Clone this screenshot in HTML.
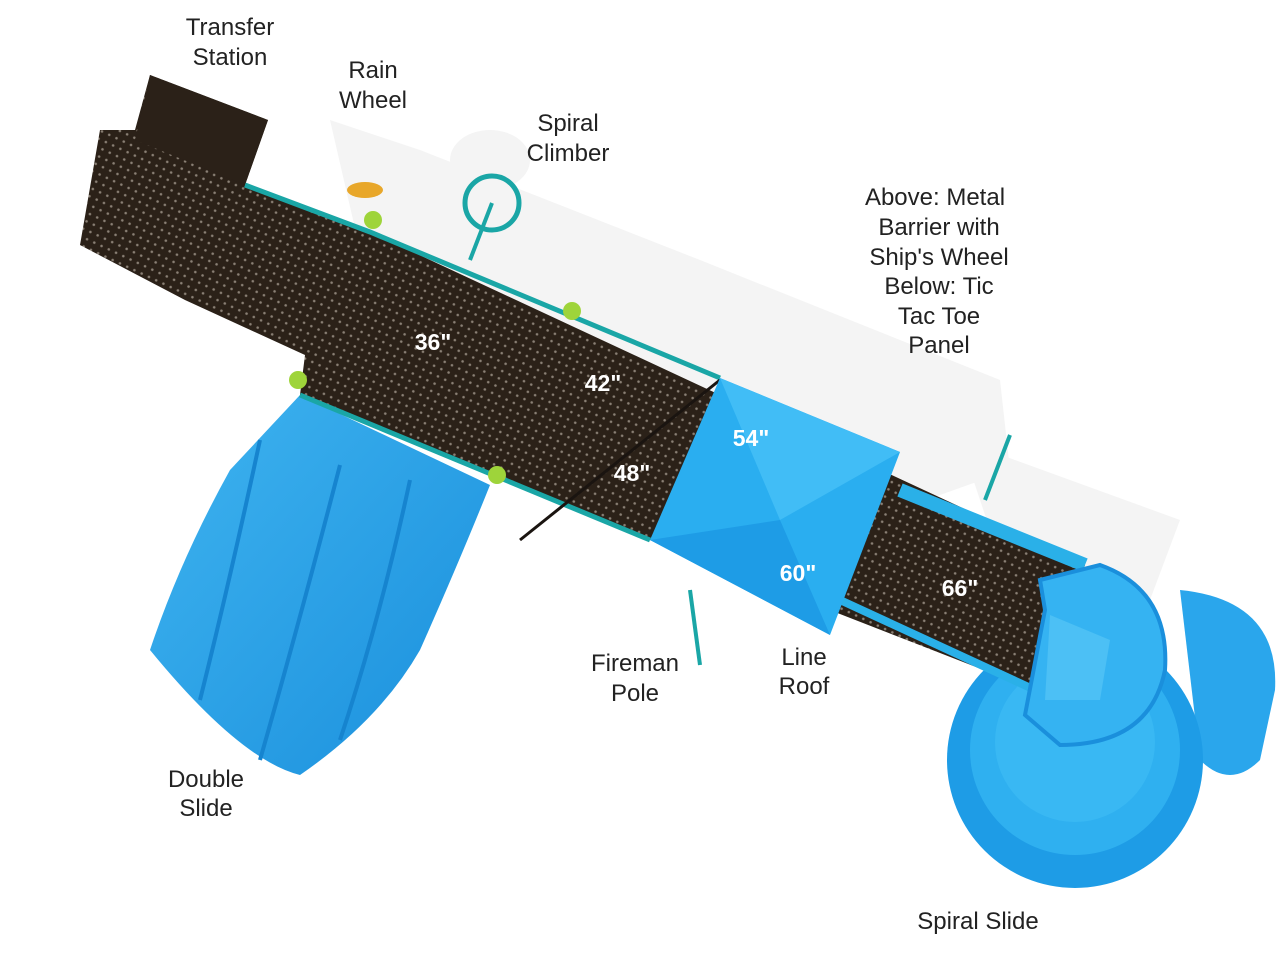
<!DOCTYPE html>
<html><head><meta charset="utf-8">
<style>
html,body{margin:0;padding:0;background:#fff;}
svg{display:block}
.lbl{font-family:"Liberation Sans",sans-serif;font-size:24px;fill:#222;text-anchor:middle}
.dim{font-family:"Liberation Sans",sans-serif;font-size:23px;font-weight:bold;fill:#fff;text-anchor:middle}
</style></head><body>
<svg width="1280" height="960" viewBox="0 0 1280 960">
<defs>
<pattern id="dots" width="8" height="8" patternUnits="userSpaceOnUse" patternTransform="rotate(25)">
<rect width="8" height="8" fill="#2b2118"/><circle cx="4" cy="4" r="1.3" fill="#8a8075"/>
</pattern>
<linearGradient id="bl" x1="0" y1="0" x2="1" y2="1"><stop offset="0" stop-color="#3fb4f0"/><stop offset="1" stop-color="#1a8fdc"/></linearGradient>
</defs>
<!-- shadows -->
<g fill="#f4f4f4">
<polygon points="330,120 420,150 700,260 1000,380 1010,470 870,520 600,400 360,250"/>
<ellipse cx="490" cy="160" rx="40" ry="30"/>
<polygon points="960,440 1180,520 1150,600 1000,560"/>
</g>
<!-- spiral slide rear & bowl -->
<path d="M1180,590 Q1280,600 1275,690 L1260,760 Q1230,790 1200,760 Z" fill="#2aa6ec"/>
<circle cx="1075" cy="760" r="128" fill="#1e9ce6"/>
<circle cx="1075" cy="750" r="105" fill="#2fb0f0"/>
<circle cx="1075" cy="742" r="80" fill="#39b8f3"/>
<!-- double slide -->
<path d="M300,395 L490,485 Q460,560 420,650 Q380,720 300,775 Q240,760 150,650 Q180,560 230,470 Z" fill="url(#bl)"/>
<path d="M260,440 Q230,580 200,700 M340,465 Q300,620 260,760 M410,480 Q380,620 340,740" stroke="#1684cf" stroke-width="4" fill="none"/>
<!-- deck -->
<polygon points="150,75 268,120 245,185 370,232 1085,565 1035,690 650,540 300,395 305,355 185,300 80,245 100,130 135,130" fill="url(#dots)"/>
<polygon points="150,75 268,120 245,185 135,140" fill="#2b2118"/>
<!-- rails -->
<polyline points="245,185 370,232 720,378" stroke="#1aa6a6" stroke-width="5" fill="none"/>
<polyline points="900,490 1085,565" stroke="#2ab0e8" stroke-width="14" fill="none"/>
<polyline points="840,600 1035,690" stroke="#2ab0e8" stroke-width="8" fill="none"/>
<polyline points="300,395 650,540" stroke="#1aa6a6" stroke-width="5" fill="none"/>
<line x1="520" y1="540" x2="720" y2="380" stroke="#1a1410" stroke-width="3"/>
<!-- spiral slide entrance -->
<path d="M1040,580 L1100,565 Q1170,590 1165,670 Q1150,745 1060,745 L1025,715 L1045,610 Z" fill="#35b3f2" stroke="#1a8fdc" stroke-width="4"/>
<path d="M1050,615 L1110,640 L1100,700 L1045,700 Z" fill="#4cc0f5"/>
<!-- roof -->
<polygon points="720,378 900,452 830,635 650,540" fill="#2aaef0"/>
<polygon points="720,378 900,452 780,520" fill="#41bdf6"/>
<polygon points="650,540 780,520 830,635" fill="#1e9ce6"/>
<!-- spiral climber -->
<circle cx="492" cy="203" r="27" fill="none" stroke="#1aa6a6" stroke-width="5"/>
<line x1="492" y1="203" x2="470" y2="260" stroke="#1aa6a6" stroke-width="4"/>
<!-- rain wheel -->
<ellipse cx="365" cy="190" rx="18" ry="8" fill="#e8a72a"/>
<!-- fireman pole -->
<line x1="690" y1="590" x2="700" y2="665" stroke="#1aa6a6" stroke-width="4"/>
<line x1="1010" y1="435" x2="985" y2="500" stroke="#1aa6a6" stroke-width="4"/>
<!-- clamps -->
<g fill="#9ed43a"><circle cx="373" cy="220" r="9"/><circle cx="572" cy="311" r="9"/><circle cx="298" cy="380" r="9"/><circle cx="497" cy="475" r="9"/></g>
<!-- dims -->
<text class="dim" x="433" y="350">36"</text>
<text class="dim" x="603" y="391">42"</text>
<text class="dim" x="632" y="481">48"</text>
<text class="dim" x="751" y="446">54"</text>
<text class="dim" x="798" y="581">60"</text>
<text class="dim" x="960" y="596">66"</text>
<!-- labels -->
<text class="lbl" x="230" y="35">Transfer</text><text class="lbl" x="230" y="65">Station</text>
<text class="lbl" x="373" y="78">Rain</text><text class="lbl" x="373" y="108">Wheel</text>
<text class="lbl" x="568" y="131">Spiral</text><text class="lbl" x="568" y="161">Climber</text>
<text class="lbl" x="935" y="205">Above: Metal</text><text class="lbl" x="939" y="235">Barrier with</text>
<text class="lbl" x="939" y="265">Ship's Wheel</text><text class="lbl" x="939" y="294">Below: Tic</text>
<text class="lbl" x="939" y="324">Tac Toe</text><text class="lbl" x="939" y="353">Panel</text>
<text class="lbl" x="635" y="671">Fireman</text><text class="lbl" x="635" y="701">Pole</text>
<text class="lbl" x="804" y="665">Line</text><text class="lbl" x="804" y="694">Roof</text>
<text class="lbl" x="206" y="787">Double</text><text class="lbl" x="206" y="816">Slide</text>
<text class="lbl" x="978" y="929">Spiral Slide</text>
</svg>
</body></html>
